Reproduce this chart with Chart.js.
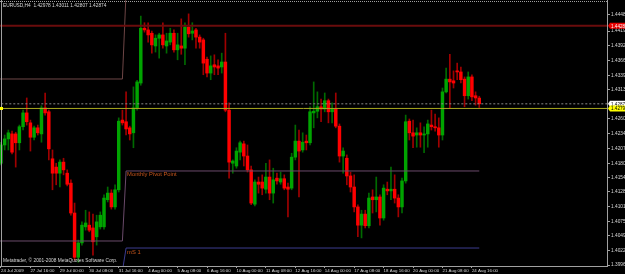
<!DOCTYPE html>
<html>
<head>
<meta charset="utf-8">
<script src="https://cdn.jsdelivr.net/npm/chart.js@4.4.1/dist/chart.umd.min.js"></script>
<style>
html, body { margin: 0; padding: 0; background: #000; overflow: hidden; }
canvas { display: block; }
</style>
</head>
<body>
<canvas id="chart" width="625" height="274"></canvas>
<script>
"use strict";

// Header / footer texts
const symbolTitle = "EURUSD,H4  1.42978 1.43011 1.42807 1.42874";
const copyright = "Metatrader, \u00a9 2001-2008 MetaQuotes Software Corp.";

// Time axis: one label every 8 H4 bars, first bar = 24 Jul 2009 08:00
const timeLabels = ["24 Jul 2009", "27 Jul 16:00", "29 Jul 00:00", "30 Jul 08:00", "31 Jul 16:00",
  "4 Aug 00:00", "5 Aug 08:00", "6 Aug 16:00", "10 Aug 00:00", "11 Aug 08:00", "12 Aug 16:00",
  "14 Aug 00:00", "17 Aug 08:00", "18 Aug 16:00", "20 Aug 00:00", "21 Aug 08:00", "24 Aug 16:00"];
const timeLabelBars = [0, 8, 16, 24, 32, 40, 48, 56, 64, 72, 80, 88, 96, 104, 112, 120, 128];

// EURUSD H4 candles (bar index 0..130)
const opens = [
  1.4180, 1.4213, 1.4224, 1.4233, 1.4233, 1.4217, 1.4246, 1.4271, 1.4253, 1.4227,
  1.4244, 1.4233, 1.4280, 1.4273, 1.4188, 1.4173, 1.4162, 1.4182, 1.4162, 1.4144,
  1.4090, 1.4010, 1.4036, 1.4065, 1.4068, 1.4063, 1.4047, 1.4065, 1.4065, 1.4114,
  1.4126, 1.4101, 1.4132, 1.4258, 1.4255, 1.4244, 1.4235, 1.4280, 1.4325, 1.4424,
  1.4421, 1.4415, 1.4392, 1.4406, 1.4412, 1.4392, 1.4399, 1.4415, 1.4385, 1.4392,
  1.4388, 1.4426, 1.4415, 1.4421, 1.4408, 1.4403, 1.4368, 1.4343, 1.4358, 1.4356,
  1.4354, 1.4363, 1.4276, 1.4180, 1.4175, 1.4200, 1.4215, 1.4193, 1.4168, 1.4106,
  1.4146, 1.4146, 1.4133, 1.4155, 1.4126, 1.4153, 1.4146, 1.4152, 1.4137, 1.4135,
  1.4191, 1.4220, 1.4204, 1.4220, 1.4217, 1.4271, 1.4274, 1.4282, 1.4278, 1.4293,
  1.4273, 1.4278, 1.4247, 1.4193, 1.4189, 1.4157, 1.4137, 1.4101, 1.4068, 1.4088,
  1.4067, 1.4119, 1.4114, 1.4119, 1.4081, 1.4133, 1.4130, 1.4133, 1.4117, 1.4101,
  1.4148, 1.4256, 1.4235, 1.4231, 1.4235, 1.4231, 1.4233, 1.4249, 1.4246, 1.4244,
  1.4231, 1.4309, 1.4332, 1.4329, 1.4347, 1.4345, 1.4332, 1.4302, 1.4336, 1.4302,
  1.42978];
const highs = [
  1.4218, 1.4231, 1.4240, 1.4238, 1.4236, 1.4249, 1.4276, 1.4298, 1.4258, 1.4247,
  1.4249, 1.4284, 1.4307, 1.4276, 1.4204, 1.4180, 1.4186, 1.4189, 1.4168, 1.4150,
  1.4108, 1.4041, 1.4074, 1.4095, 1.4092, 1.4088, 1.4086, 1.4092, 1.4123, 1.4137,
  1.4132, 1.4141, 1.4262, 1.4276, 1.4309, 1.4247, 1.4318, 1.4330, 1.4446, 1.4434,
  1.4434, 1.4419, 1.4412, 1.4415, 1.4434, 1.4415, 1.4424, 1.4421, 1.4415, 1.4441,
  1.4434, 1.4450, 1.4434, 1.4424, 1.4412, 1.4406, 1.4372, 1.4374, 1.4376, 1.4367,
  1.4379, 1.4415, 1.4289, 1.4186, 1.4208, 1.4220, 1.4220, 1.4213, 1.4175, 1.4150,
  1.4155, 1.4159, 1.4180, 1.4186, 1.4171, 1.4162, 1.4164, 1.4159, 1.4144, 1.4198,
  1.4249, 1.4240, 1.4235, 1.4231, 1.4282, 1.4327, 1.4309, 1.4296, 1.4307, 1.4296,
  1.4289, 1.4307, 1.4251, 1.4208, 1.4195, 1.4164, 1.4159, 1.4105, 1.4095, 1.4095,
  1.4126, 1.4132, 1.4155, 1.4123, 1.4141, 1.4146, 1.4173, 1.4159, 1.4123, 1.4153,
  1.4267, 1.4260, 1.4258, 1.4244, 1.4253, 1.4246, 1.4258, 1.4276, 1.4269, 1.4262,
  1.4316, 1.4352, 1.4377, 1.4347, 1.4361, 1.4354, 1.4336, 1.4345, 1.4340, 1.4309,
  1.43011];
const lows = [
  1.4177, 1.4204, 1.4204, 1.4197, 1.4173, 1.4204, 1.4240, 1.4249, 1.4202, 1.4222,
  1.4231, 1.4218, 1.4267, 1.4186, 1.4132, 1.4141, 1.4137, 1.4159, 1.4139, 1.4086,
  1.4005, 1.4001, 1.4032, 1.4059, 1.4056, 1.4014, 1.4032, 1.4061, 1.4061, 1.4110,
  1.4097, 1.4097, 1.4128, 1.4249, 1.4231, 1.4222, 1.4208, 1.4276, 1.4321, 1.4417,
  1.4399, 1.4379, 1.4381, 1.4370, 1.4388, 1.4379, 1.4394, 1.4381, 1.4367, 1.4377,
  1.4358, 1.4408, 1.4403, 1.4388, 1.4388, 1.4340, 1.4336, 1.4331, 1.4340, 1.4340,
  1.4343, 1.4273, 1.4153, 1.4162, 1.4171, 1.4186, 1.4175, 1.4164, 1.4105, 1.4103,
  1.4126, 1.4123, 1.4126, 1.4114, 1.4108, 1.4142, 1.4142, 1.4132, 1.4083, 1.4132,
  1.4186, 1.4119, 1.4200, 1.4204, 1.4213, 1.4244, 1.4262, 1.4255, 1.4273, 1.4253,
  1.4253, 1.4244, 1.4182, 1.4162, 1.4141, 1.4128, 1.4092, 1.4047, 1.4045, 1.4063,
  1.4063, 1.4090, 1.4092, 1.4068, 1.4077, 1.4123, 1.4114, 1.4108, 1.4083, 1.4090,
  1.4144, 1.4222, 1.4208, 1.4209, 1.4209, 1.4199, 1.4209, 1.4240, 1.4238, 1.4209,
  1.4222, 1.4307, 1.4280, 1.4316, 1.4331, 1.4325, 1.4282, 1.4296, 1.4293, 1.4285,
  1.42807];
const closes = [
  1.4213, 1.4224, 1.4235, 1.4200, 1.4217, 1.4246, 1.4271, 1.4255, 1.4227, 1.4244,
  1.4235, 1.4280, 1.4271, 1.4206, 1.4162, 1.4162, 1.4182, 1.4168, 1.4142, 1.4090,
  1.4010, 1.4036, 1.4068, 1.4072, 1.4059, 1.4038, 1.4074, 1.4086, 1.4117, 1.4126,
  1.4101, 1.4132, 1.4256, 1.4253, 1.4242, 1.4233, 1.4280, 1.4327, 1.4424, 1.4421,
  1.4412, 1.4394, 1.4406, 1.4412, 1.4394, 1.4401, 1.4415, 1.4385, 1.4394, 1.4388,
  1.4426, 1.4414, 1.4419, 1.4408, 1.4399, 1.4361, 1.4343, 1.4356, 1.4354, 1.4352,
  1.4363, 1.4276, 1.4182, 1.4184, 1.4202, 1.4217, 1.4193, 1.4168, 1.4108, 1.4146,
  1.4142, 1.4135, 1.4155, 1.4126, 1.4150, 1.4148, 1.4152, 1.4135, 1.4133, 1.4191,
  1.4220, 1.4202, 1.4218, 1.4217, 1.4273, 1.4274, 1.4282, 1.4278, 1.4293, 1.4273,
  1.4278, 1.4247, 1.4193, 1.4202, 1.4157, 1.4137, 1.4101, 1.4068, 1.4088, 1.4067,
  1.4117, 1.4114, 1.4119, 1.4081, 1.4135, 1.4130, 1.4133, 1.4117, 1.4101, 1.4148,
  1.4255, 1.4235, 1.4229, 1.4235, 1.4231, 1.4233, 1.4251, 1.4246, 1.4244, 1.4231,
  1.4309, 1.4332, 1.4327, 1.4325, 1.4345, 1.4331, 1.4302, 1.4336, 1.4300, 1.4298,
  1.42874];

// Price axis labels
const priceTicks = [1.44480, 1.44190, 1.43920, 1.43660, 1.43390, 1.43130, 1.42600, 1.42340,
  1.42070, 1.41800, 1.41540, 1.41280, 1.41010, 1.40750, 1.40490, 1.40220, 1.39960];

// Horizontal levels
const redLinePrice = 1.44285;
const bidPrice = 1.42874;
const yellowLinePrice = 1.42790;

// Monthly pivot indicator: July values up to bar 33, August values from bar 34 to 130
const monthBars = [-1, 33, 34, 130];
const pivotLevels = [1.40394, 1.40394, 1.41660, 1.41660];
const r1Levels = [1.43323, 1.43323, 1.44900, 1.44900];
const s1Levels = [1.39850, 1.39850, 1.40267, 1.40267];

const BULL = "#00a400", BEAR = "#ff0000";
const BULL_WICK = "#006a00", BEAR_WICK = "#a00000";
const AXIS = "#a0a0a0";
const SMALL_FONT = "'Liberation Sans', Arial, sans-serif";

const isBull = i => closes[i] >= opens[i];

function hLine(price, color, width, dash, order) {
  return {
    type: "line",
    data: [{ x: -1, y: price }, { x: 170, y: price }],
    borderColor: color, borderWidth: width, borderDash: dash || [],
    pointRadius: 0, fill: false, order,
  };
}

function stepLine(levels, color) {
  return {
    type: "line",
    data: monthBars.map((b, i) => ({ x: b, y: levels[i] })),
    borderColor: color, borderWidth: 1,
    pointRadius: 0, fill: false, order: 1,
  };
}

// Frame, texts and price tags in MetaTrader style
const mtDecor = {
  id: "mtDecor",
  beforeDraw(chart) {
    const c = chart.ctx;
    c.save();
    c.fillStyle = "#000";
    c.fillRect(0, 0, chart.width, chart.height);
    c.restore();
  },
  afterDraw(chart) {
    const c = chart.ctx, a = chart.chartArea;
    const xs = chart.scales.x, ys = chart.scales.y;
    c.save();

    c.strokeStyle = AXIS;
    c.lineWidth = 1;
    c.beginPath(); c.moveTo(1.5, a.top); c.lineTo(1.5, a.bottom); c.stroke();
    c.setLineDash([1, 1]);
    c.beginPath(); c.moveTo(a.left, 1.5); c.lineTo(a.right, 1.5); c.stroke();
    c.setLineDash([]);

    c.font = "4.8px " + SMALL_FONT;
    c.fillStyle = "#d8d8d8";
    c.textBaseline = "middle";
    c.textAlign = "left";
    c.fillText(symbolTitle, 3, 5.5);
    c.fillText(copyright, 3, 261);

    c.font = "5.8px " + SMALL_FONT;
    c.fillStyle = "#c8561c";
    c.textBaseline = "top";
    const lx = xs.getPixelForValue(monthBars[2]) + 1;
    c.fillText("Monthly Pivot Point", lx, ys.getPixelForValue(pivotLevels[2]) + 1);
    c.fillText("mS 1", lx, ys.getPixelForValue(s1Levels[2]) + 1);

    const tag = (price, bg, fg) => {
      const py = ys.getPixelForValue(price);
      c.fillStyle = bg;
      c.beginPath();
      c.moveTo(a.right + 1, py);
      c.lineTo(a.right + 3, py - 3);
      c.lineTo(chart.width, py - 3);
      c.lineTo(chart.width, py + 3);
      c.lineTo(a.right + 3, py + 3);
      c.closePath();
      c.fill();
      c.font = "4.6px " + SMALL_FONT;
      c.fillStyle = fg;
      c.textBaseline = "middle";
      c.fillText(price.toFixed(5), a.right + 4, py + 0.5);
    };
    tag(redLinePrice, "#e80000", "#ffffff");
    tag(bidPrice, "#ffffff", "#000000");
    tag(yellowLinePrice, "#ffff00", "#000000");

    c.fillStyle = "#ffff00";
    c.fillRect(0, ys.getPixelForValue(yellowLinePrice) - 1.5, 3, 3);
    c.restore();
  },
};

new Chart(document.getElementById("chart"), {
  type: "bar",
  data: {
    datasets: [
      hLine(bidPrice, "#8a8a8a", 1, [2, 2], 0),
      hLine(yellowLinePrice, "#a8a820", 1, null, 0),
      hLine(redLinePrice, "#6a0c0c", 2, null, 0),
      stepLine(r1Levels, "#6e4646"),
      stepLine(pivotLevels, "#6a4a6a"),
      stepLine(s1Levels, "#3c3c90"),
      {
        label: "body",
        data: opens.map((o, i) => ({ x: i, y: [o, closes[i]] })),
        backgroundColor: ctx => (isBull(ctx.dataIndex) ? BULL : BEAR),
        borderWidth: 0,
        barThickness: 2.8,
        maxBarThickness: 2.8,
        minBarLength: 1,
        grouped: false,
        order: 2,
      },
      {
        label: "wick",
        data: lows.map((l, i) => ({ x: i, y: [l, highs[i]] })),
        backgroundColor: ctx => (isBull(ctx.dataIndex) ? BULL_WICK : BEAR_WICK),
        borderWidth: 0,
        barThickness: 1,
        maxBarThickness: 1,
        grouped: false,
        order: 3,
      },
    ],
  },
  options: {
    responsive: false,
    animation: false,
    events: [],
    layout: { padding: 0 },
    plugins: { legend: { display: false }, tooltip: { enabled: false } },
    scales: {
      x: {
        type: "linear",
        offset: false,
        min: -0.27,
        max: 164.72,
        afterBuildTicks: s => { s.ticks = timeLabelBars.map(v => ({ value: v })); },
        afterFit: s => { s.height = 8; s.paddingLeft = 0; s.paddingRight = 0; },
        grid: { offset: false, drawOnChartArea: false, drawTicks: true, tickLength: 2, color: AXIS },
        border: { display: true, color: AXIS },
        ticks: {
          autoSkip: false, maxRotation: 0, minRotation: 0, align: "start", padding: 0,
          color: "#d8d8d8", font: { family: SMALL_FONT, size: 4.4 },
          callback: (v, i) => timeLabels[i],
        },
      },
      y: {
        type: "linear",
        position: "right",
        min: 1.39942,
        max: 1.44751,
        afterBuildTicks: s => { s.ticks = priceTicks.map(v => ({ value: v })); },
        afterFit: s => { s.width = 18; s.paddingTop = 0; s.paddingBottom = 0; },
        grid: { drawOnChartArea: false, drawTicks: true, tickLength: 3, color: AXIS },
        border: { display: true, color: AXIS },
        ticks: {
          autoSkip: false, padding: 1,
          color: "#d8d8d8", font: { family: SMALL_FONT, size: 4.8 },
          callback: v => v.toFixed(5),
        },
      },
    },
  },
  plugins: [mtDecor],
});
</script>
</body>
</html>
